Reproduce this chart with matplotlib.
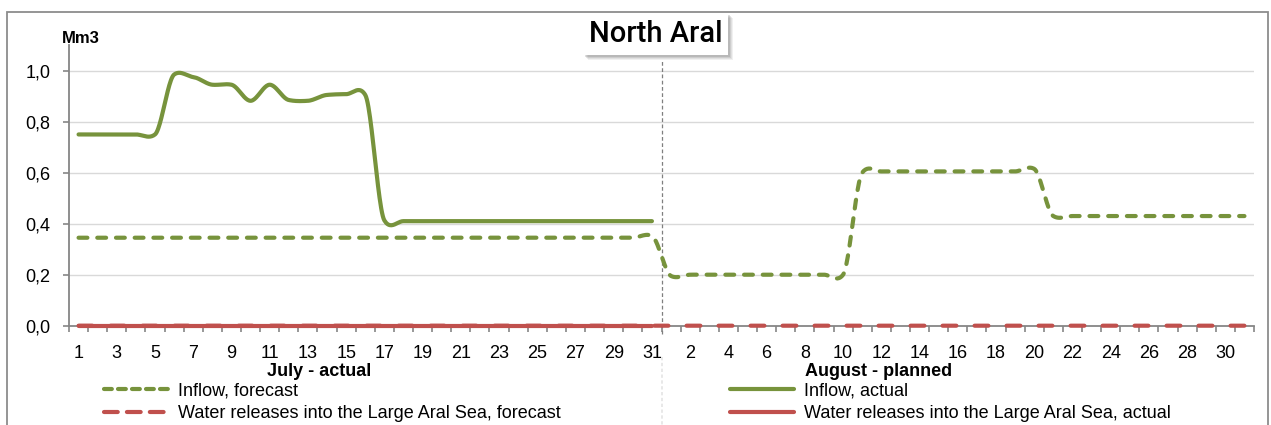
import numpy as np
import matplotlib
matplotlib.use("Agg")
import matplotlib.pyplot as plt
from matplotlib.lines import Line2D
from matplotlib.patches import Rectangle
import matplotlib.transforms as mtransforms

# ---------------- data ----------------
july_days = list(range(1, 32))
aug_days = list(range(1, 32))
day_labels = july_days + aug_days

inflow_forecast = ([0.345] * 30 + [0.352] +
                   [0.195, 0.2, 0.2, 0.2, 0.2, 0.2, 0.2, 0.2, 0.2, 0.2,
                    0.60, 0.605, 0.605, 0.605, 0.605, 0.605, 0.605, 0.605, 0.605, 0.615,
                    0.43, 0.43, 0.43, 0.43, 0.43, 0.43, 0.43, 0.43, 0.43, 0.43, 0.43])
inflow_actual = [0.75, 0.75, 0.75, 0.75, 0.75, 0.985, 0.975, 0.945, 0.945, 0.882,
                 0.945, 0.885, 0.882, 0.905, 0.908, 0.905, 0.413, 0.41, 0.41, 0.41,
                 0.41, 0.41, 0.41, 0.41, 0.41, 0.41, 0.41, 0.41, 0.41, 0.41, 0.41]
release_forecast = [0.0] * 62
release_actual = [0.0] * 31

month_labels = ["July - actual", "August - planned"]
series_labels = ["Inflow, forecast", "Water releases into the Large Aral Sea, forecast",
                 "Inflow, actual", "Water releases into the Large Aral Sea, actual"]
title = "North Aral"
unit = "Mm3"

GREEN = "#77933C"
RED = "#C0504D"
GRID = "#D9D9D9"
AXC = "#868686"

plt.rcParams['font.family'] = ['Liberation Sans', 'DejaVu Sans']

W, H = 1271, 425
fig = plt.figure(figsize=(W / 100, H / 100), dpi=100)


def fx(x):
    return x / W


def fy(y):
    return 1 - y / H


def smooth(y, k=0.5, n=24):
    """Excel-like smoothed rendering (cardinal spline through the data points)."""
    y = np.asarray(y, float)
    x = np.arange(len(y), dtype=float)
    m = np.zeros_like(y)
    m[1:-1] = k * (y[2:] - y[:-2]) / 2
    m[0] = k * (y[1] - y[0])
    m[-1] = k * (y[-1] - y[-2])
    xs, ys = [], []
    t = np.linspace(0, 1, n, endpoint=False)
    h00 = 2 * t**3 - 3 * t**2 + 1
    h10 = t**3 - 2 * t**2 + t
    h01 = -2 * t**3 + 3 * t**2
    h11 = t**3 - t**2
    for i in range(len(y) - 1):
        xs.append(x[i] + t)
        ys.append(h00 * y[i] + h10 * m[i] + h01 * y[i + 1] + h11 * m[i + 1])
    xs.append([x[-1]])
    ys.append([y[-1]])
    return np.concatenate(xs), np.concatenate(ys)


ax_l, ax_r = 69, 1254
ax_t, ax_b = 45.2, 325.7
ax = fig.add_axes([fx(ax_l), fy(ax_b), fx(ax_r - ax_l), (ax_b - ax_t) / H])

n = len(day_labels)
ax.set_xlim(-0.5, n - 0.5)
ax.set_ylim(0, 1.1)

# gridlines
yt = [0.0, 0.2, 0.4, 0.6, 0.8, 1.0]
ax.set_yticks(yt)
ax.set_yticklabels([f"{v:.1f}".replace(".", ",") for v in yt])
for v in yt[1:]:
    ax.axhline(v, color=GRID, lw=1.0, zorder=0)

# series
green_dash = (0, (2.12, 2.37))
red_dash = (0, (3.32, 4.36))
xs, ys = smooth(release_forecast)
ax.plot(xs, ys, color=RED, lw=3, ls=red_dash, dash_capstyle='round', zorder=3, clip_on=False)
xs, ys = smooth(release_actual)
ax.plot(xs, ys, color=RED, lw=3, solid_capstyle='round', zorder=4, clip_on=False)
xs, ys = smooth(inflow_forecast)
ax.plot(xs, ys, color=GREEN, lw=3, ls=green_dash, dash_capstyle='round', zorder=5)
xs, ys = smooth(inflow_actual)
ax.plot(xs, ys, color=GREEN, lw=3, solid_capstyle='round', zorder=6)

# spines
for s in ["top", "right"]:
    ax.spines[s].set_visible(False)
for s in ["left", "bottom"]:
    ax.spines[s].set_color(AXC)
    ax.spines[s].set_linewidth(1.3)

# x ticks
major = list(range(0, 31, 2)) + list(range(32, 61, 2))
ax.set_xticks(major)
ax.set_xticklabels([str(day_labels[i]) for i in major])
ax.set_xticks(np.arange(-0.5, n, 1.0), minor=True)
ax.tick_params(axis='x', which='major', length=0, pad=14, labelsize=13)
ax.tick_params(axis='x', which='minor', length=4.5, width=1.2, color=AXC, direction='out')
ax.tick_params(axis='y', which='major', length=4.5, width=1.2, color=AXC, direction='out',
               pad=9, labelsize=13)

# month divider
split = len(july_days) - 0.5
trans = mtransforms.blended_transform_factory(ax.transData, ax.transAxes)
ax.plot([split, split], [-0.03, 1.04 / 1.1], transform=trans, color="#7F7F7F",
        lw=0.9, ls=(0, (3, 2)), clip_on=False, zorder=2)
ax.plot([split, split], [-0.11, -0.36], transform=trans, color="#E4E4E4",
        lw=1.2, ls=(0, (2, 1.5)), clip_on=False, zorder=2)

# month labels
fig.text(fx(319), fy(372), month_labels[0], ha='center', va='center', fontsize=13, fontweight='bold')
fig.text(fx(879), fy(372), month_labels[1], ha='center', va='center', fontsize=13, fontweight='bold')

# unit label
fig.text(fx(62), fy(43), unit, ha='left', va='baseline', fontsize=12, fontweight='bold')

# outer frame
fig.add_artist(Rectangle((fx(7), fy(440)), fx(1268 - 7), (440 - 12) / H, transform=fig.transFigure,
                         facecolor='none', edgecolor="#8C8C8C", lw=1.3, zorder=0))

# title box with shadow
bx0, by0, bx1, by1 = 583, 13, 728, 55
for i, a in enumerate([0.10, 0.12, 0.16, 0.22]):
    off = 5 - i
    fig.add_artist(Rectangle((fx(bx0 + off), fy(by1 + off)), fx(bx1 - bx0), (by1 - by0) / H,
                             transform=fig.transFigure, facecolor="#6F6F6F", edgecolor='none',
                             alpha=a, zorder=8))
fig.add_artist(Rectangle((fx(bx0), fy(by1)), fx(bx1 - bx0), (by1 - by0) / H,
                         transform=fig.transFigure, facecolor='white', edgecolor='none', zorder=9))
fig.text(fx((bx0 + bx1) / 2), fy(34), title, ha='center', va='center', fontsize=21,
         fontweight='medium', family=['Roboto', 'Liberation Sans', 'DejaVu Sans'],
         zorder=10)

# legend (two columns)
h_if = Line2D([], [], color=GREEN, lw=3, ls=(0, (1.88, 1.48)), dash_capstyle='round')
h_rf = Line2D([], [], color=RED, lw=3, ls=(0, (3.3, 2.2)), dash_capstyle='round')
h_ia = Line2D([], [], color=GREEN, lw=3, solid_capstyle='round')
h_ra = Line2D([], [], color=RED, lw=3, solid_capstyle='round')
common = dict(loc='upper left', frameon=False, fontsize=13, handlelength=3.55,
              handletextpad=0.55, labelspacing=0.33, borderpad=0, borderaxespad=0)
leg1 = fig.legend([h_if, h_rf], series_labels[:2], bbox_to_anchor=(fx(104), fy(382)), **common)
leg2 = fig.legend([h_ia, h_ra], series_labels[2:], bbox_to_anchor=(fx(730), fy(382)), **common)

fig.savefig("out.png", dpi=100)
